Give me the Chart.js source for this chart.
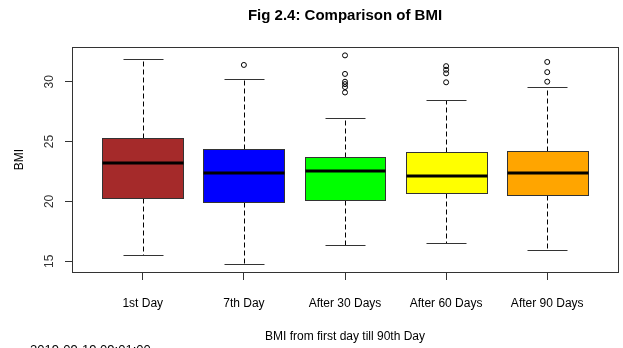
<!DOCTYPE html>
<html>
<head>
<meta charset="utf-8">
<script src="https://cdn.jsdelivr.net/npm/chart.js@4"></script>
<style>
  html, body { margin: 0; padding: 0; background: #fff; }
  #wrap { width: 623px; height: 348px; }
</style>
</head>
<body>
<div id="wrap"><canvas id="c" width="623" height="348"></canvas></div>
<script>
// BMI distribution per visit (five-number summaries plus outliers)
const categories = ['1st Day', '7th Day', 'After 30 Days', 'After 60 Days', 'After 90 Days'];
const whiskerLow  = [15.5, 14.8, 16.35, 16.55, 15.9];
const q1          = [20.3, 19.95, 20.15, 20.7, 20.5];
const medians     = [23.2, 22.4, 22.5, 22.15, 22.35];
const q3          = [25.3, 24.4, 23.7, 24.1, 24.2];
const whiskerHigh = [31.9, 30.25, 27.0, 28.45, 29.55];
const outliers    = [[], [31.4], [32.2, 30.65, 30.0, 29.8, 29.55, 29.1], [31.3, 31.0, 30.7, 29.95], [31.65, 30.8, 30.0]];
const boxColors   = ['#A52A2A', '#0000FF', '#00FF00', '#FFFF00', '#FFA500'];
const yTicks      = [15, 20, 25, 30];
const stampText   = '2019-09-19 09:01:00';

Chart.defaults.font.family = "'Liberation Sans', Arial, sans-serif";
Chart.defaults.color = '#000';

const outlierPoints = [];
outliers.forEach((vals, i) => vals.forEach(v => outlierPoints.push({ x: i + 1, y: v })));

const px = v => Math.round(v) + 0.5;

// Draws boxes, whiskers, caps and medians through the chart's scales
const boxPlotPlugin = {
  id: 'boxPlot',
  beforeDatasetsDraw(chart) {
    const ctx = chart.ctx;
    const xs = chart.scales.x, ys = chart.scales.y;
    ctx.save();
    categories.forEach((_, i) => {
      const cx = xs.getPixelForValue(i + 1);
      const boxHalf = xs.getPixelForValue(i + 1.4) - cx;
      const capHalf = xs.getPixelForValue(i + 1.2) - cx;
      const yLow = ys.getPixelForValue(whiskerLow[i]);
      const yQ1 = ys.getPixelForValue(q1[i]);
      const yMed = ys.getPixelForValue(medians[i]);
      const yQ3 = ys.getPixelForValue(q3[i]);
      const yHigh = ys.getPixelForValue(whiskerHigh[i]);
      const xc = px(cx);

      // whiskers (dashed)
      ctx.strokeStyle = '#000';
      ctx.lineWidth = 1;
      ctx.setLineDash([5, 3]);
      ctx.beginPath();
      ctx.moveTo(xc, px(yQ1)); ctx.lineTo(xc, px(yLow));
      ctx.moveTo(xc, px(yQ3)); ctx.lineTo(xc, px(yHigh));
      ctx.stroke();
      ctx.setLineDash([]);

      // caps
      ctx.strokeStyle = '#333';
      ctx.beginPath();
      ctx.moveTo(px(cx - capHalf), px(yLow)); ctx.lineTo(px(cx + capHalf), px(yLow));
      ctx.moveTo(px(cx - capHalf), px(yHigh)); ctx.lineTo(px(cx + capHalf), px(yHigh));
      ctx.stroke();

      // box
      const l = px(cx - boxHalf), r = px(cx + boxHalf);
      const t = px(yQ3), b = px(yQ1);
      ctx.fillStyle = boxColors[i];
      ctx.fillRect(l, t, r - l, b - t);
      ctx.strokeStyle = '#333';
      ctx.strokeRect(l, t, r - l, b - t);

      // median
      ctx.strokeStyle = '#000';
      ctx.lineWidth = 3;
      ctx.beginPath();
      ctx.moveTo(l, Math.round(yMed)); ctx.lineTo(r, Math.round(yMed));
      ctx.stroke();
    });
    ctx.restore();
  },
  afterDraw(chart) {
    const ctx = chart.ctx;
    const a = chart.chartArea;
    const ys = chart.scales.y;
    ctx.save();
    // frame around the plotting region
    ctx.strokeStyle = '#333';
    ctx.lineWidth = 1;
    ctx.strokeRect(px(a.left), px(a.top), Math.round(a.right - a.left), Math.round(a.bottom - a.top));
    // vertical y tick labels
    ctx.fillStyle = '#333';
    ctx.font = "12px 'Liberation Sans', Arial, sans-serif";
    ctx.textAlign = 'center';
    ctx.textBaseline = 'middle';
    yTicks.forEach(v => {
      const y = ys.getPixelForValue(v);
      ctx.save();
      ctx.translate(50, y);
      ctx.rotate(-Math.PI / 2);
      ctx.fillText(String(v), 0, 0);
      ctx.restore();
    });
    // time stamp at the bottom edge
    ctx.fillStyle = '#000';
    ctx.font = "13px 'Liberation Sans', Arial, sans-serif";
    ctx.textAlign = 'left';
    ctx.textBaseline = 'alphabetic';
    ctx.fillText(stampText, 30, 354);
    ctx.restore();
  }
};

new Chart(document.getElementById('c'), {
  type: 'scatter',
  data: {
    datasets: [{
      label: 'Outliers',
      data: outlierPoints,
      pointStyle: 'circle',
      pointRadius: 2.5,
      borderColor: '#000',
      backgroundColor: 'rgba(0,0,0,0)',
      borderWidth: 1
    }]
  },
  options: {
    responsive: false,
    animation: false,
    devicePixelRatio: 1,
    layout: { padding: { left: 0, right: 3, top: 0, bottom: 0 } },
    plugins: {
      legend: { display: false },
      tooltip: { enabled: false },
      title: {
        display: true,
        fullSize: false,
        text: 'Fig 2.4: Comparison of BMI',
        font: { size: 15, weight: 'bold' },
        color: '#000',
        padding: { top: 6.7, bottom: 22.3 }
      }
    },
    scales: {
      x: {
        type: 'linear',
        min: 0.3,
        max: 5.7,
        afterBuildTicks: s => { s.ticks = categories.map((_, i) => ({ value: i + 1 })); },
        afterFit: s => { s.height = 76; },
        ticks: {
          autoSkip: false,
          maxRotation: 0,
          padding: 16,
          font: { size: 12 },
          color: '#000',
          callback: v => categories[v - 1]
        },
        grid: { drawOnChartArea: false, tickLength: 8, color: '#333' },
        border: { color: '#333' },
        title: {
          display: true,
          text: 'BMI from first day till 90th Day',
          font: { size: 12 },
          color: '#000',
          padding: { top: 0, bottom: 4 }
        }
      },
      y: {
        type: 'linear',
        min: 14.1,
        max: 32.9,
        afterBuildTicks: s => { s.ticks = yTicks.map(v => ({ value: v })); },
        afterFit: s => { s.width = 72; },
        ticks: { display: false },
        grid: { drawOnChartArea: false, tickLength: 7, color: '#333' },
        border: { color: '#333' },
        title: {
          display: true,
          text: 'BMI',
          font: { size: 12 },
          color: '#000',
          padding: { top: 12.8, bottom: 0 }
        }
      }
    }
  },
  plugins: [boxPlotPlugin]
});
</script>
</body>
</html>
